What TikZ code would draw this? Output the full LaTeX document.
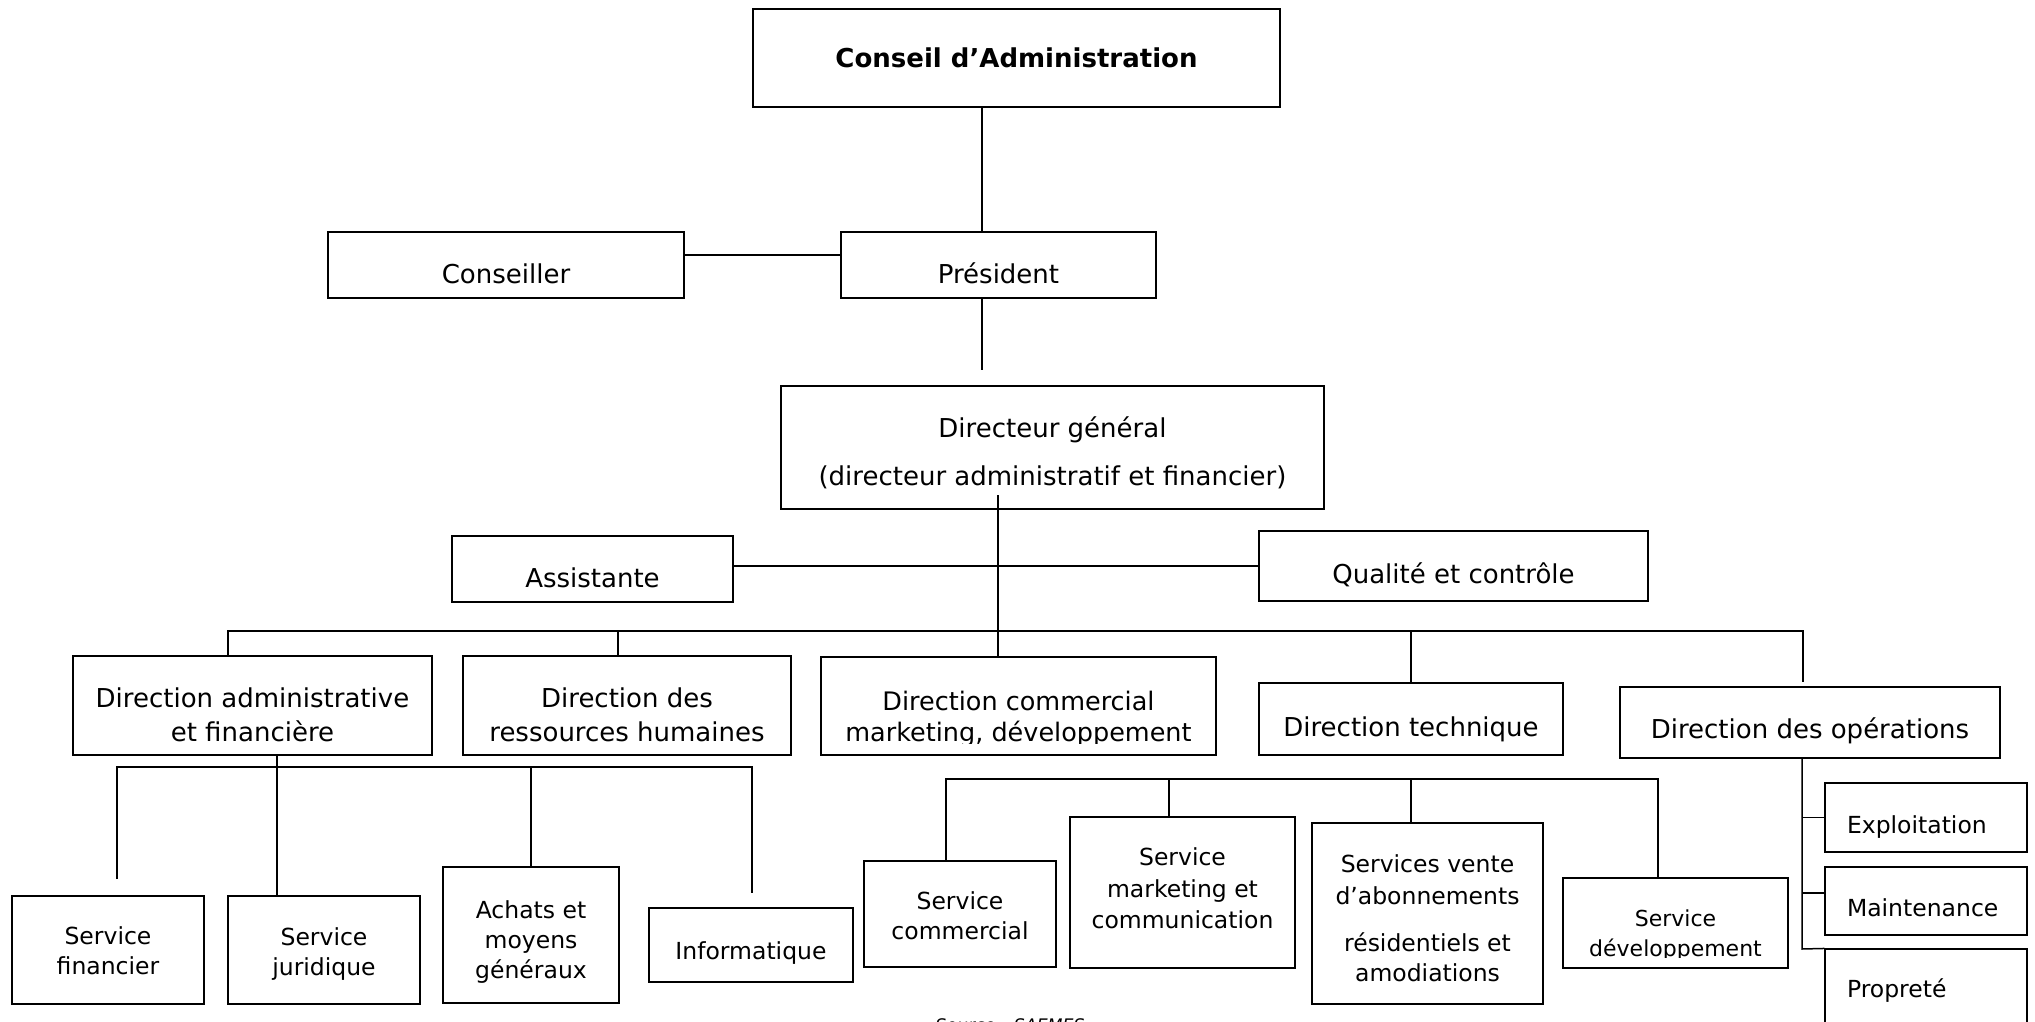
\documentclass[tikz,border=0pt]{standalone}
\usepackage{fontspec}
\setmainfont{DejaVu Sans}
\newcommand{\lift}[1]{\rule{0pt}{#1}}
\newcommand{\sink}[1]{\rule[-#1]{0pt}{#1}}

\begin{document}
\begin{tikzpicture}[x=1pt, y=-1pt,
    orgbox/.style={draw, line width=1.1pt, align=center, inner sep=0pt,
      font=\fontsize{26}{30}\selectfont},
    small/.style={font=\fontsize{23.5}{30}\selectfont},
    sidebox/.style={orgbox, small, minimum height=#1, text width=158pt,
      inner xsep=22pt, align=left},
    link/.style={line width=1.5pt}]
  \fill[white] (0,0) rectangle (2035,1022);
  \useasboundingbox (0,0) rectangle (2035,1022);

  % top of the chart
  \node[orgbox, minimum width=527pt, minimum height=98pt,
    font=\fontsize{26}{30}\selectfont\bfseries] (conseil) at (1016.5,58) {Conseil d’Administration};
  \node[orgbox, minimum width=356pt, minimum height=66pt] (conseiller) at (506,265) {\lift{37pt}Conseiller};
  \node[orgbox, minimum width=315pt, minimum height=66pt] (president) at (998.5,265) {\lift{37pt}Président};
  \node[orgbox, minimum width=543pt, minimum height=123pt] (dg) at (1052.5,447.5)
    {\lift{32.4pt}Directeur général\\[18pt](directeur administratif et financier)};
  \node[orgbox, minimum width=281pt, minimum height=66pt] (assistante) at (592.5,569) {\lift{38pt}Assistante};
  \node[orgbox, minimum width=389pt, minimum height=70pt] (qualite) at (1453.5,566) {\lift{37.4pt}Qualité et contrôle};

  % directions
  \node[orgbox, minimum width=359pt, minimum height=99pt] (daf) at (252.5,705.5)
    {\lift{39pt}Direction administrative\\[4pt]et financière};
  \node[orgbox, minimum width=328pt, minimum height=99pt] (drh) at (627,705.5)
    {\lift{39pt}Direction des\\[4pt]ressources humaines};
  \node[orgbox, minimum width=395pt, minimum height=98pt,
    font=\fontsize{25.5}{30}\selectfont] (dcm) at (1018.5,706)
    {\lift{44.3pt}Direction commercial\\[1pt]marketing, développement};
  \node[orgbox, minimum width=304pt, minimum height=72pt] (dtech) at (1411,719) {\lift{40pt}Direction technique};
  \node[orgbox, minimum width=380pt, minimum height=71pt] (dops) at (1810,722.5) {\lift{36.4pt}Direction des opérations};

  % services
  \node[orgbox, small, minimum width=192pt, minimum height=108pt] (sfin) at (108,950) {\lift{20pt}Service\\financier};
  \node[orgbox, small, minimum width=192pt, minimum height=108pt] (sjur) at (324,950) {\lift{24.9pt}Service\\juridique};
  \node[orgbox, small, minimum width=176pt, minimum height=136pt] (achats) at (531,935)
    {\lift{30.9pt}Achats et\\moyens\\généraux};
  \node[orgbox, small, minimum width=204pt, minimum height=74pt] (info) at (751,945) {\lift{32.9pt}Informatique};
  \node[orgbox, small, minimum width=192pt, minimum height=106pt] (scom) at (960,914) {\lift{22pt}Service\\commercial};
  \node[orgbox, small, minimum width=225pt, minimum height=151pt] (smkt) at (1182.5,892.5)
    {Service\\[1.5pt]marketing et\\[1.5pt]communication\sink{8pt}};
  \node[orgbox, small, minimum width=231pt, minimum height=181pt] (svente) at (1427.5,913.5)
    {\lift{28pt}Services vente\\[2pt]d’abonnements\\[17pt]résidentiels et\\amodiations};
  \node[orgbox, minimum width=225pt, minimum height=90pt,
    font=\fontsize{22}{30}\selectfont] (sdev) at (1675.5,923) {\lift{41.6pt}Service\\développement};
  \node[sidebox=69pt] (expl) at (1926,817.5) {\lift{35.9pt}Exploitation};
  \node[sidebox=68pt] (maint) at (1926,901) {\lift{32pt}Maintenance};
  \node[sidebox=84pt] (sprop) at (1926,991) {Propreté};

  % text cut off at the foot of two boxes
  \fill[white] ([xshift=1.2pt,yshift=1.2pt]dcm.south west) rectangle ([xshift=-1.2pt,yshift=11.5pt]dcm.south east);
  \fill[white] ([xshift=1.2pt,yshift=1.2pt]sdev.south west) rectangle ([xshift=-1.2pt,yshift=11pt]sdev.south east);

  \node[font=\fontsize{17.3}{20}\selectfont\itshape, anchor=base] (source) at (1010,1031) {Source : SAEMES};

  % connectors
  \coordinate (cgap) at (982,370);
  \coordinate (ctick) at ([yshift=10pt]conseiller.east);
  \coordinate (dgtop) at (998,495);
  \coordinate (tdaf) at (228,631);
  \coordinate (tdrh) at (618,631);
  \coordinate (tdtech) at (1411,631);
  \coordinate (tops) at (1803,631);
  \coordinate (opsgap) at (1803,682);
  \draw[link] (conseil.south -| cgap) -- (president.north -| cgap);
  \draw[link] (president.south -| cgap) -- (cgap);
  \draw[link] (ctick) -- (ctick -| president.west);
  \draw[link] (dgtop) -- (dgtop |- dcm.north);
  \draw[link] (assistante.east |- qualite.west) -- (qualite.west);
  \draw[link] (daf.north -| tdaf) -- (tdaf) -- (tops) -- (opsgap);
  \draw[link] (tdrh) -- (drh.north -| tdrh);
  \draw[link] (tdtech) -- (dtech.north -| tdtech);

  \coordinate (dafspine) at (277,767);
  \coordinate (tsfin) at (117,767);
  \coordinate (sfingap) at (117,879);
  \coordinate (tinfo) at (752,767);
  \coordinate (infogap) at (752,893);
  \draw[link] (sfingap) -- (tsfin) -- (tinfo) -- (infogap);
  \draw[link] (daf.south -| dafspine) -- (sjur.north -| dafspine);
  \draw[link] (achats.north) -- (achats.north |- tsfin);

  \coordinate (tscom) at (946,779);
  \coordinate (tsmkt) at (1169,779);
  \coordinate (tsvente) at (1411,779);
  \coordinate (tsdev) at (1658,779);
  \draw[link] (scom.north -| tscom) -- (tscom) -- (tsdev) -- (sdev.north -| tsdev);
  \draw[link] (tsmkt) -- (smkt.north -| tsmkt);
  \draw[link] (tsvente) -- (svente.north -| tsvente);

  \coordinate (opsspine) at (1802,949);
  \coordinate (mtick) at ([yshift=8pt]maint.west);
  \draw[link] (dops.south -| opsspine) -- (opsspine) -- (sprop.north west);
  \draw[link] (expl.west -| opsspine) -- (expl.west);
  \draw[link] (mtick -| opsspine) -- (mtick);
\end{tikzpicture}
\end{document}
